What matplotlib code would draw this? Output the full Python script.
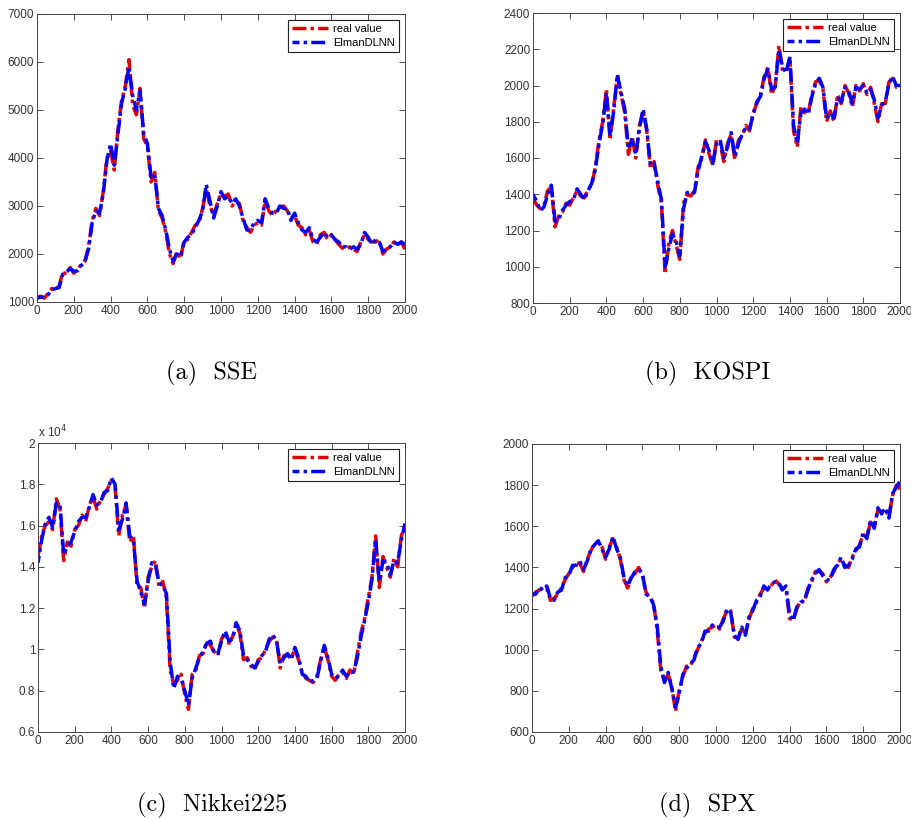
import numpy as np
import matplotlib
matplotlib.use("Agg")
import matplotlib.pyplot as plt
from matplotlib.ticker import FuncFormatter

# values, one point every 20 days (0..2000)
sse_real = [1100, 1120, 1080, 1180, 1280, 1260, 1330, 1620, 1580, 1720,
            1600, 1680, 1780, 1850, 2150, 2700, 2950, 2800, 3300, 4000,
            4150, 3750, 4600, 5200, 5500, 6050, 5100, 4900, 5450, 4400,
            4250, 3500, 3700, 2900, 2750, 2450, 2000, 1800, 2050, 1900,
            2300, 2300, 2450, 2600, 2650, 2950, 3350, 3000, 2800, 3050,
            3250, 3200, 3250, 3000, 3100, 3050, 2700, 2550, 2450, 2600,
            2650, 2600, 3100, 2900, 2800, 2900, 2980, 3000, 2900, 2750,
            2800, 2600, 2550, 2400, 2500, 2250, 2200, 2400, 2450, 2300,
            2400, 2300, 2200, 2120, 2100, 2150, 2100, 2050, 2250, 2400,
            2300, 2250, 2250, 2300, 2000, 2100, 2150, 2250, 2200, 2250,
            2100]
sse_pred = [1080, 1100, 1100, 1150, 1250, 1280, 1300, 1580, 1620, 1700,
            1640, 1650, 1760, 1830, 2100, 2650, 2900, 2850, 3250, 3950,
            4300, 3850, 4500, 5150, 5450, 5900, 5300, 5000, 5400, 4500,
            4300, 3600, 3650, 2950, 2800, 2500, 2100, 1850, 2000, 1950,
            2250, 2350, 2400, 2550, 2700, 2900, 3450, 3100, 2750, 3000,
            3300, 3150, 3200, 3050, 3150, 3000, 2750, 2500, 2500, 2650,
            2700, 2650, 3150, 2950, 2850, 2850, 3000, 2950, 2950, 2700,
            2850, 2650, 2500, 2450, 2550, 2300, 2250, 2350, 2450, 2350,
            2400, 2300, 2250, 2150, 2150, 2100, 2150, 2100, 2200, 2450,
            2350, 2200, 2300, 2250, 2050, 2100, 2150, 2250, 2200, 2250,
            2200]

kospi_real = [1380, 1340, 1320, 1340, 1420, 1440, 1220, 1280, 1300, 1350,
              1340, 1380, 1420, 1390, 1380, 1430, 1450, 1550, 1700, 1800,
              1980, 1700, 1880, 2050, 1950, 1850, 1620, 1720, 1600, 1780,
              1860, 1750, 1540, 1580, 1450, 1350, 960, 1130, 1200, 1120,
              1040, 1350, 1400, 1390, 1420, 1550, 1600, 1700, 1620, 1560,
              1700, 1680, 1580, 1680, 1730, 1590, 1700, 1720, 1780, 1750,
              1850, 1900, 1950, 2050, 2100, 1950, 2000, 2220, 2080, 2080,
              2150, 1750, 1660, 1880, 1850, 1850, 1950, 2020, 2030, 1980,
              1800, 1860, 1800, 1950, 1900, 2000, 1960, 1880, 2000, 1970,
              2010, 1950, 1990, 1900, 1800, 1900, 1900, 2020, 2040, 1990,
              1990]
kospi_pred = [1400, 1360, 1310, 1330, 1400, 1450, 1250, 1260, 1310, 1340,
              1360, 1370, 1430, 1400, 1370, 1420, 1460, 1540, 1680, 1790,
              1960, 1720, 1860, 2060, 1960, 1870, 1650, 1700, 1620, 1760,
              1870, 1760, 1560, 1570, 1470, 1370, 1000, 1100, 1180, 1140,
              1060, 1320, 1410, 1400, 1410, 1530, 1610, 1690, 1640, 1570,
              1680, 1700, 1600, 1660, 1740, 1610, 1680, 1730, 1770, 1760,
              1840, 1910, 1940, 2040, 2090, 1980, 1990, 2200, 2100, 2070,
              2160, 1780, 1680, 1850, 1870, 1840, 1940, 2010, 2040, 1990,
              1820, 1850, 1820, 1930, 1910, 1990, 1970, 1900, 1990, 1980,
              2000, 1960, 1980, 1920, 1820, 1890, 1910, 2010, 2050, 2000,
              2000]

nikkei_real = [14500, 15500, 16000, 16200, 15800, 17300, 16800, 14300, 15200, 15000,
               15800, 16000, 16500, 16200, 17000, 17400, 16800, 17200, 17500, 17800,
               18200, 17900, 15500, 16500, 17000, 15200, 15500, 13000, 13000, 12000,
               13500, 14000, 14300, 13000, 13300, 12500, 9000, 8300, 8500, 8800,
               7800, 7100, 8800, 9000, 9700, 9800, 10400, 10200, 9900, 9700,
               10500, 10800, 10300, 10600, 11200, 10800, 9500, 9600, 9200, 9000,
               9500, 9600, 10000, 10400, 10600, 10500, 9100, 9700, 9700, 9600,
               10000, 9500, 8900, 8600, 8500, 8400, 8700, 9500, 10100, 9500,
               8700, 8500, 8800, 8900, 8600, 9000, 8800, 9800, 10800, 11500,
               12500, 13500, 15500, 13000, 14500, 14000, 13500, 14400, 14000, 15500,
               16000]
nikkei_pred = [14200, 15300, 16100, 16400, 15900, 17100, 17000, 14600, 15000, 15200,
               15700, 16200, 16400, 16400, 16900, 17500, 17000, 17100, 17600, 17700,
               18300, 18000, 15800, 16300, 17100, 15500, 15300, 13300, 12800, 12200,
               13300, 14200, 14100, 13200, 13100, 12700, 9400, 8100, 8700, 8600,
               8000, 7300, 8600, 9100, 9600, 9900, 10300, 10400, 9800, 9800,
               10400, 10900, 10400, 10500, 11300, 10900, 9700, 9500, 9300, 9100,
               9400, 9700, 9900, 10500, 10700, 10400, 9300, 9600, 9800, 9500,
               10100, 9600, 8800, 8700, 8400, 8500, 8600, 9400, 10200, 9600,
               8800, 8600, 8700, 9000, 8700, 8900, 8900, 9600, 10600, 11400,
               12300, 13400, 15300, 13300, 14300, 14200, 13600, 14300, 14200, 15300,
               16100]

spx_real = [1260, 1280, 1290, 1300, 1300, 1240, 1250, 1270, 1300, 1340,
            1370, 1400, 1420, 1420, 1380, 1440, 1480, 1520, 1520, 1500,
            1440, 1500, 1540, 1500, 1440, 1340, 1300, 1360, 1370, 1400,
            1360, 1280, 1250, 1230, 1100, 900, 850, 880, 820, 700,
            800, 870, 920, 920, 960, 1000, 1040, 1080, 1100, 1110,
            1120, 1100, 1150, 1190, 1190, 1060, 1060, 1100, 1080, 1150,
            1200, 1230, 1270, 1300, 1300, 1310, 1340, 1320, 1300, 1300,
            1150, 1150, 1200, 1240, 1230, 1300, 1330, 1380, 1380, 1370,
            1330, 1350, 1380, 1420, 1440, 1410, 1400, 1450, 1480, 1510,
            1560, 1550, 1620, 1600, 1680, 1670, 1680, 1650, 1750, 1800,
            1780]
spx_pred = [1270, 1270, 1300, 1290, 1310, 1250, 1240, 1280, 1290, 1350,
            1360, 1410, 1410, 1430, 1390, 1430, 1490, 1510, 1530, 1490,
            1450, 1490, 1550, 1490, 1450, 1350, 1310, 1350, 1380, 1390,
            1370, 1270, 1260, 1220, 1120, 920, 840, 890, 810, 720,
            790, 880, 910, 930, 950, 1010, 1030, 1090, 1090, 1120,
            1110, 1110, 1140, 1200, 1180, 1070, 1050, 1110, 1070, 1160,
            1190, 1240, 1260, 1310, 1290, 1320, 1330, 1330, 1290, 1310,
            1170, 1140, 1210, 1230, 1240, 1290, 1340, 1370, 1390, 1360,
            1340, 1340, 1390, 1410, 1450, 1400, 1410, 1440, 1490, 1500,
            1570, 1540, 1630, 1590, 1690, 1660, 1690, 1640, 1760, 1790,
            1820]

captions = ["(a)  SSE", "(b)  KOSPI", "(c)  Nikkei225", "(d)  SPX"]
ylims = [(1000, 7000), (800, 2400), (6000, 20000), (600, 2000)]
yticks = [np.arange(1000, 7001, 1000), np.arange(800, 2401, 200),
          np.arange(6000, 20001, 2000), np.arange(600, 2001, 200)]
series = [(sse_real, sse_pred), (kospi_real, kospi_pred),
          (nikkei_real, nikkei_pred), (spx_real, spx_pred)]

W, H = 911, 819
fig = plt.figure(figsize=(W / 100, H / 100), dpi=100)
plt.rcParams['font.family'] = ['Liberation Sans', 'DejaVu Sans']

# axes boxes in pixels: left, top, right, bottom
boxes = [(37, 14, 405, 302), (533, 13, 900, 303),
         (38, 443, 405, 732), (532, 444, 900, 732)]
caption_top = [361, 361, 793, 793]

for i, (real, pred) in enumerate(series):
    l, t, r, b = boxes[i]
    ax = fig.add_axes([l / W, 1 - b / H, (r - l) / W, (b - t) / H])
    days = np.linspace(0, 2000, len(real))
    ax.plot(days, real, color='#e00000', lw=2.5, ls=(0, (4, 1.2, 1, 1.2)), label='real value')
    ax.plot(days, pred, color='#0000ff', lw=2.5, ls=(2, (4, 1.2, 1, 1.2)), label='ElmanDLNN')
    ax.set_xlim(0, 2000)
    ax.set_ylim(*ylims[i])
    ax.set_xticks(np.arange(0, 2001, 200))
    ax.set_yticks(yticks[i])
    ax.tick_params(direction='in', top=True, right=True, labelsize=8.5,
                   length=4, width=0.6, colors='#333333', pad=2)
    for s in ax.spines.values():
        s.set_linewidth(0.7)
        s.set_color('#444444')
    if i == 2:
        ax.yaxis.set_major_formatter(FuncFormatter(lambda v, p: '%g' % (v / 1e4)))
        ax.text(0.0, 1.01, r'x 10$^4$', transform=ax.transAxes, fontsize=8.5,
                color='#333333', ha='left', va='bottom')
    leg = ax.legend(loc='upper right', fontsize=8, handlelength=3.2,
                    borderaxespad=0.5, fancybox=False, framealpha=1,
                    borderpad=0.4, labelspacing=0.35, handletextpad=0.5)
    leg.get_frame().set_edgecolor('#222222')
    leg.get_frame().set_linewidth(0.8)
    fig.text(((l + r) / 2 - 9) / W, 1 - caption_top[i] / H, captions[i], family='cmr10',
             fontsize=17.5, ha='center', va='top')

fig.savefig('out.png', dpi=100)
